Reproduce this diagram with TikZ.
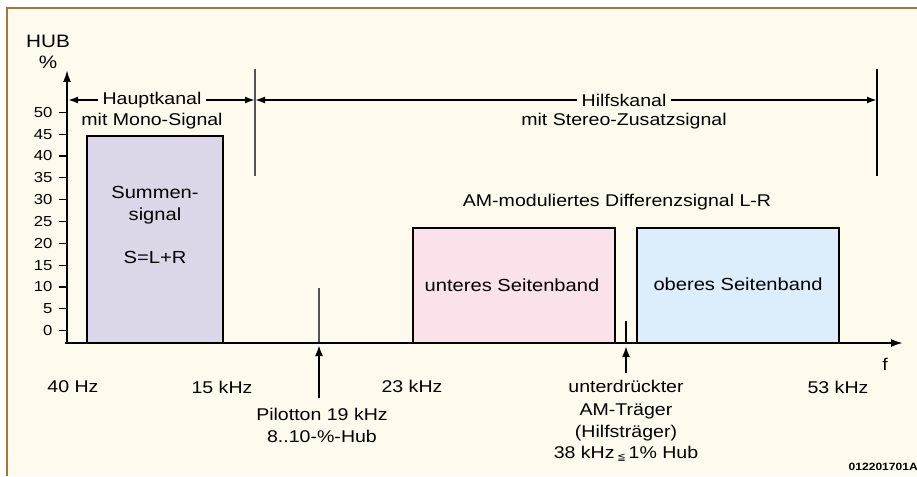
\documentclass[tikz,border=0pt]{standalone}
\usepackage{fontspec}
\setmainfont{Liberation Sans}[FakeStretch=1.15]
\newfontfamily\dejavu{DejaVu Sans}
\usepackage{xcolor}
\usepackage{tikz}
\usetikzlibrary{arrows.meta}

\definecolor{paper}{HTML}{FEFBEE}
\definecolor{framebrown}{HTML}{A0783A}
\definecolor{sumfill}{HTML}{DDD5E8}
\definecolor{lowfill}{HTML}{FBE1EA}
\definecolor{upfill}{HTML}{DCEEFB}
\definecolor{sepgray}{HTML}{555555}

\begin{document}
\begin{tikzpicture}[x=1pt,y=-1pt,
    axisline/.style={line width=2pt,-{Latex[length=12pt,width=8pt]}},
    chanarrow/.style={line width=1.8pt,{Latex[length=10pt,width=7pt]}-{Latex[length=10pt,width=7pt]}},
    markarrow/.style={line width=2pt,-{Latex[length=11pt,width=8pt]}},
    band/.style={draw,line width=2pt},
    lbl/.style={inner sep=0pt,align=center,font=\fontsize{17}{22}\selectfont},
    chanlbl/.style={lbl,fill=paper,inner xsep=5pt,inner ysep=2pt},
    ticklbl/.style={inner sep=0pt,font=\fontsize{14.5}{16}\selectfont}]

        % Page and frame
        \useasboundingbox (0,0) rectangle (917,476);
        \fill[white] (0,0) rectangle (917,476);
        \fill[paper] (7,8) rectangle (917,476);
        \draw[framebrown,line width=2.5pt] (7,476) -- (7,8) -- (917,8);

        % Axes
        \coordinate (orig) at (65,343);
        \coordinate (ytip) at (67,70);
        \coordinate (xtip) at (903,343);
        \draw[axisline] (67,343) -- (ytip);
        \node[lbl,font=\fontsize{18}{22}\selectfont] (hub) at (48,41) {HUB};
        \node[lbl,font=\fontsize{18}{22}\selectfont] (pct) at (48,62) {\%};

        % Y ticks
        \draw[line width=1.2pt] (67,330.7) -- (59,330.7) node[ticklbl,left=6pt] (t0) {0};
        \draw[line width=1.2pt] (67,308.8) -- (59,308.8) node[ticklbl,left=6pt] (t5) {5};
        \draw[line width=1.2pt] (67,287.0) -- (59,287.0) node[ticklbl,left=6pt] (t10) {10};
        \draw[line width=1.2pt] (67,265.2) -- (59,265.2) node[ticklbl,left=6pt] (t15) {15};
        \draw[line width=1.2pt] (67,243.3) -- (59,243.3) node[ticklbl,left=6pt] (t20) {20};
        \draw[line width=1.2pt] (67,221.5) -- (59,221.5) node[ticklbl,left=6pt] (t25) {25};
        \draw[line width=1.2pt] (67,199.7) -- (59,199.7) node[ticklbl,left=6pt] (t30) {30};
        \draw[line width=1.2pt] (67,177.8) -- (59,177.8) node[ticklbl,left=6pt] (t35) {35};
        \draw[line width=1.2pt] (67,156.0) -- (59,156.0) node[ticklbl,left=6pt] (t40) {40};
        \draw[line width=1.2pt] (67,134.1) -- (59,134.1) node[ticklbl,left=6pt] (t45) {45};
        \draw[line width=1.2pt] (67,112.3) -- (59,112.3) node[ticklbl,left=6pt] (t50) {50};

        % Bands
        \draw[band,fill=sumfill] (87,136) rectangle (223,343);
        \draw[band,fill=lowfill] (413,228) rectangle (615,343);
        \draw[band,fill=upfill] (637,228) rectangle (839,343);
        \node[lbl,font=\fontsize{17.5}{21.5}\selectfont] (sum) at (155,225) {Summen-\\signal\\[21.5pt]S=L+R};
        \node[lbl,font=\fontsize{17.5}{21.5}\selectfont] (lsb) at (512,285) {unteres Seitenband};
        \node[lbl,font=\fontsize{17.5}{21.5}\selectfont] (usb) at (738,284) {oberes Seitenband};
        \node[lbl] (diff) at (617,202) {AM-moduliertes Differenzsignal L-R};

        % Pilot and carrier lines
        \coordinate (pil-t) at (319,288);
        \coordinate (pil-b) at (319,343);
        \coordinate (car-t) at (626,321);
        \coordinate (car-b) at (626,343);
        \draw[sepgray,line width=1.3pt] (pil-t) -- (pil-b);
        \draw[line width=2.3pt] (car-t) -- (car-b);

        % X axis on top of the bands
        \draw[axisline] (orig) -- (xtip);

        % Channel borders
        \coordinate (sepa-t) at (255,69);
        \coordinate (sepa-b) at (255,176);
        \coordinate (sepb-t) at (877,69);
        \coordinate (sepb-b) at (877,176);
        \draw[sepgray,line width=1.5pt] (sepa-t) -- (sepa-b);
        \draw[line width=1.3pt] (sepb-t) -- (sepb-b);

        % Channel arrows
        \coordinate (hk-l) at (68,100);
        \coordinate (hk-r) at (255,100);
        \coordinate (zk-r) at (877,100);
        \draw[chanarrow] (hk-l) -- (hk-r);
        \draw[chanarrow] (hk-r) -- (zk-r);
        \node[chanlbl] (haupt) at (152,100) {Hauptkanal};
        \node[lbl] (mono) at (152,121) {mit Mono-Signal};
        \node[chanlbl] (hilf) at (624,100) {Hilfskanal};
        \node[lbl] (stereo) at (624,121) {mit Stereo-Zusatzsignal};

        % Frequencies
        \node[lbl] (f40) at (73,387) {40 Hz};
        \node[lbl] (f15) at (222,387) {15 kHz};
        \node[lbl] (f23) at (412,386) {23 kHz};
        \node[lbl] (f53) at (838,387) {53 kHz};
        \node[lbl] (fax) at (885,364) {f};

        % Markers
        \coordinate (pa-s) at (319,398);
        \coordinate (pa-e) at (319,345);
        \coordinate (ca-s) at (626,373);
        \coordinate (ca-e) at (626,346);
        \draw[markarrow] (pa-s) -- (pa-e);
        \draw[markarrow] (ca-s) -- (ca-e);
        \node[lbl] (pilot) at (322,425) {Pilotton 19 kHz\\8..10-\%-Hub};
        \node[lbl] (carrier) at (626,421) {unterdrückter\\AM-Träger\\(Hilfsträger)\\38 kHz\,\raisebox{-1.5pt}{\dejavu\fontsize{10}{10}\selectfont ≦}\,1\% Hub};

        % Figure code
        \node[inner sep=0pt,anchor=east,font=\fontsize{10.5}{12}\selectfont\bfseries] (code) at (918,467) {012201701A};

    \end{tikzpicture}
\end{document}
